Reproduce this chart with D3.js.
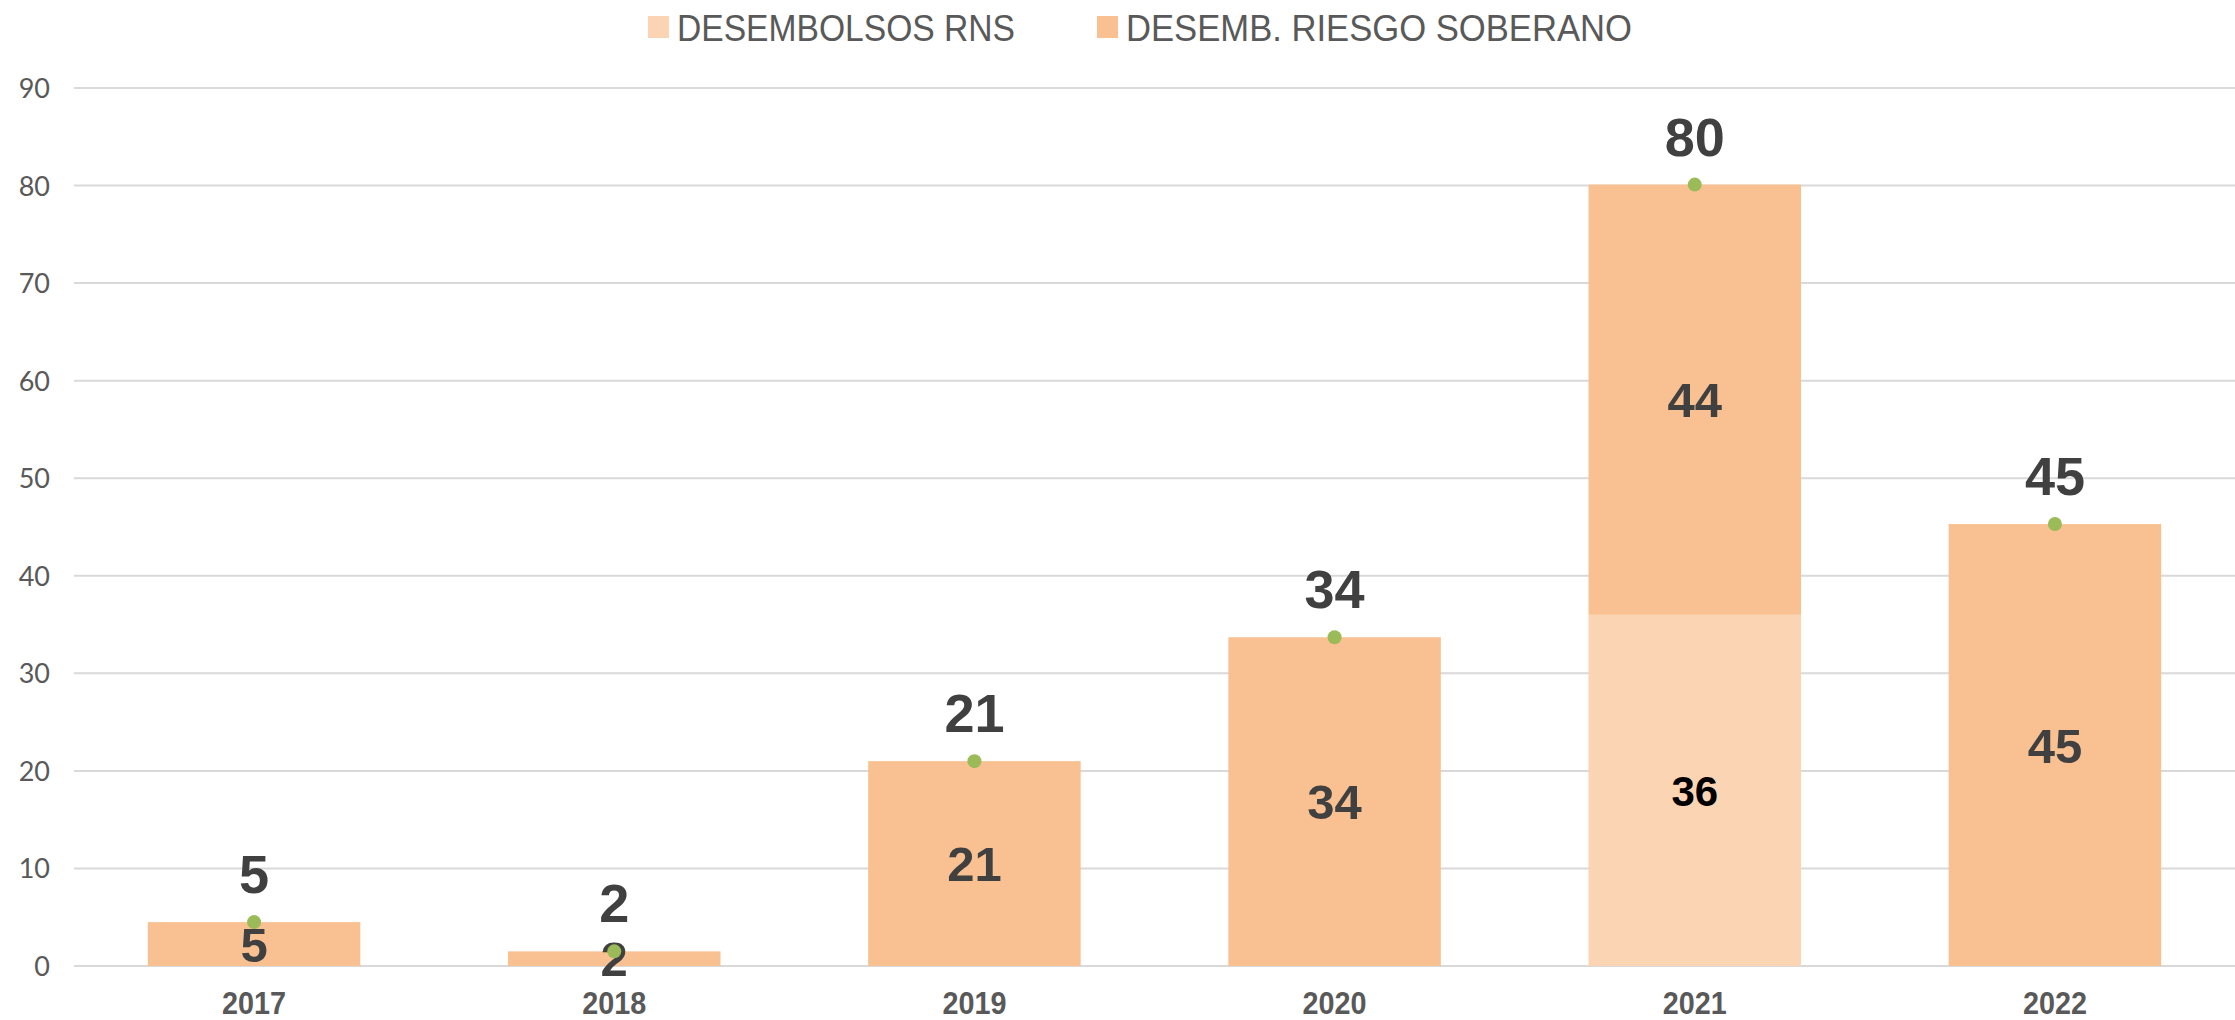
<!DOCTYPE html>
<html><head><meta charset="utf-8">
<script src="https://cdn.jsdelivr.net/npm/d3@7"></script>
<style>html,body{margin:0;padding:0;background:#fff;}svg{display:block;}</style>
</head><body>
<svg id="c" width="2235" height="1020"></svg>
<script>
const years = ["2017","2018","2019","2020","2021","2022"];
const rns = [null, null, null, null, 36, null];
const soberano = [4.5, 1.5, 21, 33.7, 44.1, 45.3];
const totalLabels = ["5","2","21","34","80","45"];
const rnsLabels = [null,null,null,null,"36",null];
const soberanoLabels = ["5","2","21","34","44","45"];
const yTicks = [0,10,20,30,40,50,60,70,80,90];
const seriesNames = ["DESEMBOLSOS RNS","DESEMB. RIESGO SOBERANO"];
const colors = ["#FBD4B4","#F9C191"];

(function(){
const svg = d3.select("#c");
const mLeft = 74, mRight = 2235, mTop = 88, mBottom = 966;

const x = d3.scaleBand().domain(years).range([mLeft, mRight]).paddingInner(0.41).paddingOuter(0.205);
const y = d3.scaleLinear().domain([0, 90]).range([mBottom, mTop]);

svg.append("g").selectAll("line").data(yTicks).join("line")
  .attr("x1", mLeft).attr("x2", mRight)
  .attr("y1", d => y(d)).attr("y2", d => y(d))
  .attr("stroke", "#D9D9D9").attr("stroke-width", 2);

const yAxis = d3.axisLeft(y).tickValues(yTicks).tickSize(0).tickPadding(0);
const ya = svg.append("g").attr("transform", "translate(50,0)").call(yAxis);
ya.select(".domain").remove();
ya.selectAll("text").attr("font-family", "Lato, 'Noto Sans', sans-serif").attr("font-weight", 400)
  .attr("font-size", 27).attr("fill", "#595959").attr("dy", "0.35em");

const xAxis = d3.axisBottom(x).tickSize(0).tickPadding(0);
const xa = svg.append("g").attr("transform", "translate(0,1003)").call(xAxis);
xa.select(".domain").remove();
xa.selectAll("text").attr("font-family", "'Liberation Sans', Arial, sans-serif")
  .attr("font-weight", 700).attr("font-size", 31).attr("fill", "#595959").attr("dy", "0.35em")
  .attr("textLength", 64).attr("lengthAdjust", "spacingAndGlyphs");

const stackData = years.map((yr, i) => ({year: yr, rns: rns[i] || 0, sob: soberano[i]}));
const stack = d3.stack().keys(["rns", "sob"])(stackData);

const g = svg.append("g");
stack.forEach((layer, li) => {
  g.append("g").selectAll("rect").data(layer).join("rect")
    .attr("x", d => x(d.data.year))
    .attr("width", x.bandwidth())
    .attr("y", d => y(d[1]))
    .attr("height", d => Math.max(0, y(d[0]) - y(d[1])))
    .attr("fill", colors[li]);
});

const lbl = svg.append("g").attr("font-family", "'Liberation Sans', Arial, sans-serif").attr("font-weight", 700).attr("text-anchor", "middle");
stack[0].forEach((d, i) => {
  if (rnsLabels[i] == null) return;
  lbl.append("text").attr("x", x(d.data.year) + x.bandwidth()/2).attr("y", (y(d[0]) + y(d[1]))/2)
    .attr("dy", "0.36em").attr("font-size", 42).attr("fill", "#000").text(rnsLabels[i]);
});
stack[1].forEach((d, i) => {
  lbl.append("text").attr("x", x(d.data.year) + x.bandwidth()/2).attr("y", (y(d[0]) + y(d[1]))/2)
    .attr("dy", "0.36em").attr("font-size", 49).attr("fill", "#404040").text(soberanoLabels[i]);
});

const totals = years.map((yr, i) => (rns[i] || 0) + soberano[i]);
svg.append("g").selectAll("circle").data(totals).join("circle")
  .attr("cx", (d, i) => x(years[i]) + x.bandwidth()/2)
  .attr("cy", d => y(d)).attr("r", 7).attr("fill", "#9BBB59");
lbl.selectAll(".tot").data(totals).join("text").attr("class", "tot")
  .attr("x", (d, i) => x(years[i]) + x.bandwidth()/2)
  .attr("y", d => y(d) - 29).attr("font-size", 54).attr("fill", "#404040")
  .text((d, i) => totalLabels[i]);

const lg = svg.append("g").attr("font-family", "'Liberation Sans', Arial, sans-serif");
const legX = [648, 1097];
const legW = [338, 506];
seriesNames.forEach((n, i) => {
  lg.append("rect").attr("x", legX[i]).attr("y", 16).attr("width", 21).attr("height", 22).attr("fill", colors[i]);
  lg.append("text").attr("x", legX[i] + 29).attr("y", 41).attr("font-size", 37).attr("fill", "#595959")
    .attr("textLength", legW[i]).attr("lengthAdjust", "spacingAndGlyphs").text(n);
});
})();
</script>
</body></html>
